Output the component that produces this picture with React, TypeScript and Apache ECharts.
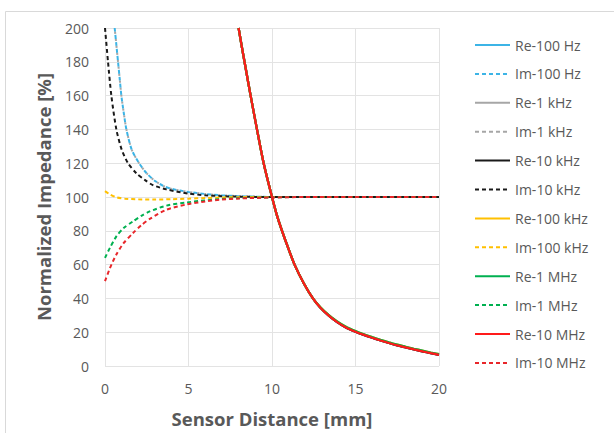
import React, { useEffect, useRef } from "react";
import * as echarts from "echarts";

// Real parts (all frequencies overlap on the same curve)
const reCurve: [number, number][] = [
  [8.0, 200], [8.2, 188.5], [8.4, 177.5], [8.7, 161], [9.1, 140], [9.5, 120],
  [10, 100], [10.3, 89], [10.6, 80], [11.0, 69], [11.35, 60], [11.9, 49],
  [12.45, 40], [12.9, 34.5], [13.4, 29.8], [13.9, 26.0], [14.4, 23.0], [15, 20.3],
  [15.5, 18.4], [16, 16.7], [16.5, 15.1], [17, 13.6], [17.5, 12.2], [18, 11.0],
  [18.5, 9.8], [19, 8.7], [19.5, 7.6], [20, 6.6],
];
const reCurveTailHi: [number, number][] = [
  [8.0, 200], [8.2, 188.5], [8.4, 177.5], [8.7, 161], [9.1, 140], [9.5, 120],
  [10, 100], [10.3, 89], [10.6, 80], [11.0, 69], [11.35, 60], [11.9, 49],
  [12.45, 40], [12.9, 34.7], [13.4, 30.1], [13.9, 26.4], [14.4, 23.4], [15, 20.7],
  [15.5, 18.8], [16, 17.1], [16.5, 15.5], [17, 14.0], [17.5, 12.6], [18, 11.4],
  [18.5, 10.2], [19, 9.1], [19.5, 8.0], [20, 7.0],
];

// Imaginary parts
const im100Hz: [number, number][] = [
  [0.58, 200], [0.68, 190], [0.78, 180], [0.88, 170], [0.98, 160], [1.12, 150],
  [1.28, 140], [1.6, 128], [2.04, 120], [2.5, 114], [3, 109.5], [3.5, 106.5],
  [4, 104.8], [5, 103], [6, 101.8], [7, 101], [8, 100.5], [9, 100.2], [10, 100],
  [12, 100], [15, 100], [20, 100],
];
const im1kHz: [number, number][] = [
  [0.58, 200], [0.68, 190], [0.78, 180], [0.88, 170], [0.98, 160], [1.12, 150],
  [1.28, 140], [1.6, 128], [2.04, 120], [2.5, 114], [3, 109.5], [3.5, 106.5],
  [4, 104.8], [5, 103], [6, 101.8], [7, 101], [8, 100.5], [9, 100.2], [10, 100],
  [12, 100], [15, 100], [20, 100],
];
const im10kHz: [number, number][] = [
  [0, 200], [0.18, 180], [0.38, 160], [0.68, 140], [1.0, 128], [1.38, 120],
  [1.88, 114], [2.4, 110], [2.87, 107], [3.68, 104.5], [5, 102], [6, 101],
  [7, 100.5], [8, 100.2], [10, 100], [12, 100], [15, 100], [20, 100],
];
const im100kHz: [number, number][] = [
  [0, 103.5], [0.3, 101.5], [0.7, 99.8], [1.2, 99], [2, 98.6], [3, 98.5],
  [4, 98.7], [5, 99], [6, 99.4], [7, 99.7], [8, 99.9], [10, 100], [15, 100], [20, 100],
];
const im1MHz: [number, number][] = [
  [0, 64], [0.3, 70], [0.68, 76.7], [1.1, 81.5], [1.68, 85.6], [2.2, 89], [2.68, 91.5],
  [3.68, 94.9], [4.9, 96.8], [6, 98], [7, 98.8], [8, 99.3], [10, 99.8],
  [12, 100], [15, 100], [20, 100],
];
const im10MHz: [number, number][] = [
  [0, 50.2], [0.3, 58], [0.68, 66], [1.1, 72.5], [1.68, 78.7], [2.2, 83.5], [2.68, 87],
  [3.68, 92.5], [4.9, 95.6], [6, 97.4], [7, 98.5], [8, 99.1], [10, 99.7],
  [12, 100], [15, 100], [20, 100],
];

const seriesNames = [
  "Re-100 Hz", "Im-100 Hz", "Re-1 kHz", "Im-1 kHz", "Re-10 kHz", "Im-10 kHz",
  "Re-100 kHz", "Im-100 kHz", "Re-1 MHz", "Im-1 MHz", "Re-10 MHz", "Im-10 MHz",
];
const seriesColors = [
  "#3cb4e6", "#3cb4e6", "#a6a6a6", "#a6a6a6", "#1a1a1a", "#1a1a1a",
  "#ffc000", "#ffc000", "#00b050", "#00b050", "#ff1a1a", "#e8262a",
];
const seriesData = [
  reCurve, im100Hz, reCurve, im1kHz, reCurve, im10kHz,
  reCurveTailHi, im100kHz, reCurveTailHi, im1MHz, reCurve, im10MHz,
];

const xTicks = { min: 0, max: 20, interval: 5 };
const yTicks = { min: 0, max: 200, interval: 20 };

const FONT = "'Open Sans', 'Liberation Sans', sans-serif";
const TXT = "#595959";

export default function App() {
  const ref = useRef<HTMLDivElement>(null);
  useEffect(() => {
    if (!ref.current) return;
    const chart = echarts.init(ref.current, undefined, { renderer: "svg" });
    chart.setOption({
      animation: false,
      backgroundColor: "#ffffff",
      textStyle: { fontFamily: FONT },
      graphic: [
        {
          type: "rect",
          shape: { x: 5.5, y: 11.5, width: 700, height: 600 },
          style: { fill: "none", stroke: "#d9d9d9", lineWidth: 1 },
          silent: true,
        },
      ],
      grid: { left: 105, right: 175, top: 28, bottom: 66 },
      legend: {
        orient: "vertical",
        left: 469,
        top: 33,
        itemWidth: 35,
        itemHeight: 14,
        itemGap: 14.9,
        data: seriesNames.map((name, i) =>
          name === "Im-1 kHz"
            ? { name, lineStyle: { color: seriesColors[i], width: 2, type: [4, 3], dashOffset: 0 } }
            : { name }
        ),
        itemStyle: { opacity: 0 },
        textStyle: { color: TXT, fontSize: 14, fontFamily: FONT },
      },
      xAxis: {
        type: "value",
        ...xTicks,
        name: "Sensor Distance [mm]",
        nameLocation: "middle",
        nameGap: 43,
        nameTextStyle: { color: TXT, fontSize: 18.5, fontWeight: "bold", fontFamily: FONT },
        axisLine: { show: false },
        axisTick: { show: false },
        axisLabel: { color: TXT, fontSize: 14, margin: 15, fontFamily: FONT },
        splitLine: { show: true, lineStyle: { color: "#e3e3e3", width: 1 } },
      },
      yAxis: {
        type: "value",
        ...yTicks,
        name: "Normalized Impedance [%]",
        nameLocation: "middle",
        nameGap: 52,
        nameTextStyle: { color: TXT, fontSize: 18.5, fontWeight: "bold", fontFamily: FONT },
        axisLine: { show: false },
        axisTick: { show: false },
        axisLabel: { color: TXT, fontSize: 14, margin: 16, fontFamily: FONT },
        splitLine: { show: true, lineStyle: { color: "#e3e3e3", width: 1 } },
      },
      series: seriesNames.map((name, i) => {
        const isIm = name.startsWith("Im");
        const isGrayIm = name === "Im-1 kHz";
        return {
          name,
          type: "line",
          data: seriesData[i],
          symbol: "none",
          smooth: 0.25,
          clip: true,
          color: seriesColors[i],
          lineStyle: {
            color: seriesColors[i],
            width: isIm ? 2 : 2.25,
            type: isIm ? (isGrayIm ? [2, 5] : [4, 3]) : "solid",
            dashOffset: isGrayIm ? 2.5 : 0,
          },
          z: 2 + i,
        };
      }),
    });
    return () => chart.dispose();
  }, []);
  return (
    <div
      ref={ref}
      style={{ position: "fixed", left: 0, top: 0, width: 614, height: 433 }}
    />
  );
}
